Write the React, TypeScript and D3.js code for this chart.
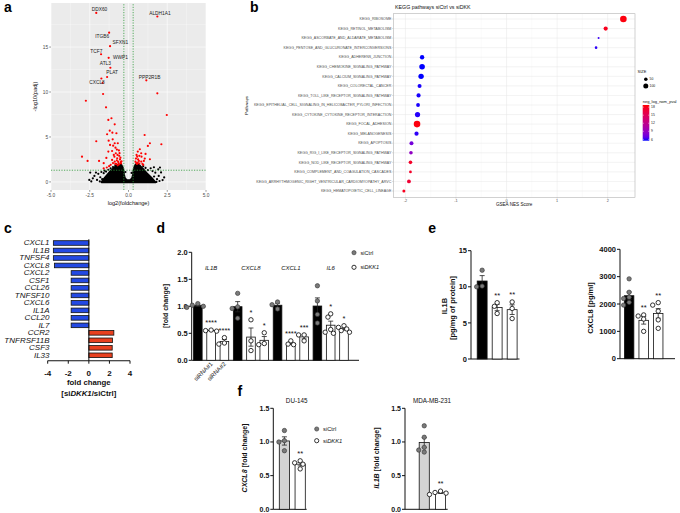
import React from 'react';
import * as d3 from 'd3';

const FONT = "'Liberation Sans', Arial, Helvetica, sans-serif";

// ---------------- Panel a: volcano ----------------
const volcanoLabelGenes = ['DDX60', 'ALDH1A1', 'ITGB6', 'SFXN1', 'TCF7', 'WWP1', 'ATL3', 'PLAT', 'CXCL8', 'PPP2R1B'];
const volcanoLabelX = [-2.08, 1.86, -1.25, -1.19, -1.77, -1.28, -1.17, -1.38, -1.67, 1.15];
const volcanoLabelY = [18.8, 18.4, 16.6, 15.1, 14.2, 13.8, 12.7, 11.67, 11.0, 11.3];
const volcanoRed: number[][] = [
  [-1.75, 11.5], [-1.64, 9.78], [1.86, 9.85], [-2.75, 9.03], [-1.45, 8.3], [2.47, 7.44], [-1.3, 6.89], [-1.1, 7.08],
  [-0.89, 6.41], [-1.21, 5.7], [-1.38, 5.3], [-1.04, 5.48], [-0.78, 5.41], [1.04, 5.22], [-2.08, 4.52], [-1.28, 4.59],
  [-1.02, 4.74], [-0.89, 4.3], [-0.69, 4.3], [-0.99, 4.03], [-1.19, 4.11], [-0.84, 3.81], [1.38, 4.3], [2.12, 4.19],
  [1.25, 4.0], [-1.3, 3.37], [-1.06, 3.44], [-0.82, 3.19], [-0.71, 3.0], [0.73, 3.63], [0.6, 3.37], [0.82, 3.19],
  [1.1, 3.11], [-3.0, 2.81], [-2.64, 2.33], [-1.9, 2.33], [-1.6, 2.08], [-1.43, 2.67], [-1.06, 2.44], [-0.91, 2.81],
  [-0.73, 2.63], [-0.89, 2.26], [-0.67, 2.26], [-0.8, 2.0], [0.56, 2.81], [0.84, 2.81], [1.38, 2.52], [0.67, 2.33],
  [0.82, 2.26], [0.99, 2.33], [0.6, 2.15], [-0.6, 2.9], [-0.55, 2.5], [-0.5, 2.2], [-0.62, 1.95], [-0.48, 2.05],
  [-0.7, 1.85], [-0.58, 3.2], [-0.52, 2.7], [-0.45, 2.3], [-0.65, 2.1], [-0.75, 2.4], [-0.85, 2.0], [-1.0, 2.1],
  [-1.15, 1.9], [-0.95, 3.0], [-0.62, 3.5], [-0.75, 3.6], [0.5, 2.1], [0.55, 2.0], [0.45, 2.25], [0.7, 2.05],
  [0.62, 2.5], [0.9, 2.0], [0.48, 2.6], [0.52, 3.0], [0.7, 2.9], [1.05, 2.6], [0.95, 1.9], [-1.25, 1.75],
  [-1.4, 1.6], [-1.6, 1.5],
];
const volcanoBlack: number[][] = [
  [-2.53, 0.22], [-2.47, 1.04], [-2.2, 0.67], [-2.1, 1.04], [-2.03, 0.22], [-1.82, 0.52], [-1.6, 0.97], [-1.45, 1.15],
  [-1.95, 0.9], [-1.75, 1.1], [-1.3, 1.35], [-1.15, 1.5], [-1.85, 0.05], [-2.3, 0.4], [-1.55, 1.25], [-1.0, 1.65],
  [-0.85, 1.85], [1.43, 1.52], [1.64, 1.63], [1.92, 1.4], [2.03, 1.6], [1.73, 1.03], [1.95, 0.67], [1.84, 0.3],
  [2.2, 0.2], [1.55, 1.2], [2.1, 1.05], [1.25, 1.3], [1.1, 1.55], [2.3, 0.5], [1.8, 0.0], [0.95, 1.75],
  [-0.2, 1.1], [0.2, 1.0], [-1.7, 0.3], [1.65, 0.6], [-2.4, 0.05], [2.0, 0.1],
];
// outline of the dense core of non-significant genes (log2FC, -log10 padj)
const volcanoCore: number[][] = [
  [-1.75, -0.05], [-1.65, 0.25], [-1.5, 0.55], [-1.35, 0.85], [-1.2, 1.15], [-1.05, 1.4], [-0.9, 1.65], [-0.75, 1.85],
  [-0.6, 1.95], [-0.45, 1.9], [-0.36, 1.6], [-0.31, 1.2], [-0.28, 0.8], [-0.23, 0.45], [-0.13, 0.25], [0, 0.2],
  [0.13, 0.25], [0.23, 0.45], [0.28, 0.8], [0.31, 1.2], [0.36, 1.6], [0.45, 1.95], [0.6, 2.0], [0.75, 1.8],
  [0.9, 1.55], [1.05, 1.25], [1.2, 0.95], [1.35, 0.7], [1.5, 0.45], [1.65, 0.15], [1.75, -0.05],
];
const volcanoXTicks = [-5, -2.5, 0, 2.5, 5];
const volcanoYTicks = [0, 5, 10, 15];
const fcCut = 0.3;
const padjCut = 1.3;

// ---------------- Panel b: KEGG ----------------
const pathways = [
  'KEGG_RIBOSOME', 'KEGG_RETINOL_METABOLISM', 'KEGG_ASCORBATE_AND_ALDARATE_METABOLISM',
  'KEGG_PENTOSE_AND_GLUCURONATE_INTERCONVERSIONS', 'KEGG_ADHERENS_JUNCTION', 'KEGG_CHEMOKINE_SIGNALING_PATHWAY',
  'KEGG_CALCIUM_SIGNALING_PATHWAY', 'KEGG_COLORECTAL_CANCER', 'KEGG_TOLL_LIKE_RECEPTOR_SIGNALING_PATHWAY',
  'KEGG_EPITHELIAL_CELL_SIGNALING_IN_HELICOBACTER_PYLORI_INFECTION', 'KEGG_CYTOKINE_CYTOKINE_RECEPTOR_INTERACTION',
  'KEGG_FOCAL_ADHESION', 'KEGG_MELANOGENESIS', 'KEGG_APOPTOSIS', 'KEGG_RIG_I_LIKE_RECEPTOR_SIGNALING_PATHWAY',
  'KEGG_NOD_LIKE_RECEPTOR_SIGNALING_PATHWAY', 'KEGG_COMPLEMENT_AND_COAGULATION_CASCADES',
  'KEGG_ARRHYTHMOGENIC_RIGHT_VENTRICULAR_CARDIOMYOPATHY_ARVC', 'KEGG_HEMATOPOIETIC_CELL_LINEAGE',
];
const nesScore = [2.31, 1.96, 1.82, 1.77, -1.67, -1.67, -1.69, -1.72, -1.74, -1.75, -1.76, -1.77, -1.78, -1.88, -1.89, -1.9, -1.9, -1.93, -2.03];
const setSize = [174, 70, 16, 27, 77, 125, 117, 64, 70, 58, 108, 174, 70, 64, 52, 52, 31, 58, 36];
const negLogPval = [18.5, 18, 6, 5.8, 5.5, 5.5, 5.5, 5.6, 5.6, 5.6, 5.7, 18.5, 5.8, 7.5, 8.8, 17.5, 17.5, 17, 18];
const nesTicks = [-2, -1, 0, 1, 2];
const sizeLegend = [50, 100];
const pvalLegend = [18, 15, 12, 9, 6];

// ---------------- Panel c ----------------
const cGenes = ['CXCL1', 'IL1B', 'TNFSF4', 'CXCL8', 'CXCL2', 'CSF1', 'CCL26', 'TNFSF10', 'CXCL6', 'IL1A', 'CCL20', 'IL7', 'CCR2', 'TNFRSF11B', 'CSF3', 'IL33'];
const cFold = [-3.45, -3.45, -3.45, -3.35, -1.72, -1.72, -1.72, -1.72, -1.72, -1.72, -1.72, -1.72, 2.43, 2.29, 2.27, 2.27];
const cTicks = [-4, -2, 0, 2, 4];

// ---------------- Panel d ----------------
const dGenes = ['IL1B', 'CXCL8', 'CXCL1', 'IL6'];
const dCtrl = [[1.05, 1.02, 1.0, 0.98], [1.24, 0.99, 0.96, 0.78], [1.08, 1.03, 0.95], [1.38, 1.1, 0.85, 0.69]];
const dSi1 = [[0.56, 0.55, 0.54], [0.75, 0.36, 0.18], [0.36, 0.3, 0.29], [0.86, 0.8, 0.57, 0.52, 0.5]];
const dSi2 = [[0.42, 0.32, 0.3], [0.51, 0.31, 0.29], [0.47, 0.47, 0.36], [0.64, 0.61, 0.58, 0.55, 0.52]];
const dStars1 = ['****', '*', '****', '*'];
const dStars2 = ['****', '*', '***', '*'];
const dYTicks = [0, 0.5, 1.0, 1.5, 2.0];
const dXLabels = ['siRNA#1', 'siRNA#2'];

// ---------------- Panel e ----------------
const eIL1B = [[12.3, 10.1, 10.0], [7.8, 7.3, 6.3], [7.9, 7.0, 5.6]];
const eCXCL8 = [[2920, 2430, 2250, 2200, 2060, 1960], [1600, 1560, 1450, 1000], [2050, 1960, 1740, 1420, 1110]];
const eStars = ['', '**', '**'];
const eIL1BTicks = [0, 5, 10, 15];
const eCXCL8Ticks = [0, 1000, 2000, 3000, 4000];

// ---------------- Panel f ----------------
const fDU145 = [[1.17, 1.02, 1.0, 0.87], [0.72, 0.69, 0.67, 0.6]];
const fMDA = [[1.24, 1.07, 0.92, 0.88, 0.85], [0.27, 0.25, 0.24, 0.22]];
const fStars = ['', '**'];
const fTicks = [0, 0.5, 1.0, 1.5];

// ---------- helpers ----------
function swarm(vals: number[], y: (v: number) => number, r: number): number[] {
  const placed: { x: number; y: number }[] = [];
  const d = 2 * r + 0.2;
  return vals.map((v) => {
    const py = y(v);
    const cands = [0];
    for (let k = 1; k < 6; k++) cands.push(-k * d * 0.6, k * d * 0.6);
    let best = 0;
    for (const c of cands) {
      if (placed.every((p) => Math.hypot(p.x - c, p.y - py) >= d * 0.85)) { best = c; break; }
    }
    placed.push({ x: best, y: py });
    return best;
  });
}
const mean = (a: number[]) => d3.mean(a) as number;
const sem = (a: number[]) => (d3.deviation(a) as number) / Math.sqrt(a.length);

type BarSpec = { pts: number[]; fill: string; open: boolean; star: string };

function BarSet({ specs, band, y, r = 2.2 }: { specs: BarSpec[]; band: d3.ScaleBand<string>; y: d3.ScaleLinear<number, number>; r?: number }) {
  const keys = band.domain();
  return (
    <g>
      {specs.map((s, i) => {
        const x0 = band(keys[i]) as number;
        const bw = band.bandwidth();
        const cx = x0 + bw / 2;
        const m = mean(s.pts);
        const e = sem(s.pts);
        const offs = swarm(s.pts, y, r);
        const top = d3.max(s.pts) as number;
        return (
          <g key={i}>
            <rect x={x0} y={y(m)} width={bw} height={y(0) - y(m)} fill={s.fill} stroke="#111" strokeWidth={0.8} />
            <line x1={cx} x2={cx} y1={y(m - e)} y2={y(m + e)} stroke="#222" strokeWidth={0.8} />
            <line x1={cx - 2.5} x2={cx + 2.5} y1={y(m + e)} y2={y(m + e)} stroke="#222" strokeWidth={0.8} />
            <line x1={cx - 2.5} x2={cx + 2.5} y1={y(m - e)} y2={y(m - e)} stroke="#222" strokeWidth={0.8} />
            {s.pts.map((p, j) => (
              <circle key={j} cx={cx + offs[j]} cy={y(p)} r={r} fill={s.open ? '#fff' : '#7a7a7a'} stroke={s.open ? '#111' : '#333'} strokeWidth={s.open ? 0.85 : 0.6} />
            ))}
            {s.star && (
              <text x={cx} y={Math.min(y(top), y(m + e)) - 5} fontSize={7.5} textAnchor="middle" fill="#111">{s.star}</text>
            )}
          </g>
        );
      })}
    </g>
  );
}

function YAxis({ y, x, ticks, fmt, x2, fontSize = 7.5 }: { y: d3.ScaleLinear<number, number>; x: number; ticks: number[]; fmt: (v: number) => string; x2: number; fontSize?: number }) {
  const [r0, r1] = y.range();
  return (
    <g>
      <line x1={x} x2={x} y1={r0} y2={r1} stroke="#111" strokeWidth={1} />
      <line x1={x} x2={x2} y1={r0} y2={r0} stroke="#111" strokeWidth={1} />
      {ticks.map((t) => (
        <g key={t}>
          <line x1={x - 3} x2={x} y1={y(t)} y2={y(t)} stroke="#111" strokeWidth={1} />
          <text x={x - 4} y={y(t)} dy="0.35em" textAnchor="end" fontSize={fontSize} fontWeight="bold" fill="#111">{fmt(t)}</text>
        </g>
      ))}
    </g>
  );
}

// ---------- Panel A ----------
function PanelA() {
  const x = d3.scaleLinear().domain([-5, 5]).range([51, 206]);
  const y = d3.scaleLinear().domain([-0.9, 19.9]).range([190, 3]);
  const [px0, px1] = x.range();
  const [py0, py1] = y.range();
  const xMinor = volcanoXTicks.slice(0, -1).map((t, i) => (t + volcanoXTicks[i + 1]) / 2);
  const yMinor = [2.5, 7.5, 12.5, 17.5];
  const corePath = d3.line<number[]>().x((d) => x(d[0])).y((d) => y(d[1])).curve(d3.curveLinearClosed)(volcanoCore) as string;
  const labelDx = [3.3, 2.6, -7, 10.3, -4.7, 11.7, -5, 5, -5.6, 3.3];
  const labelDy = [-3.7, -3.4, 3.4, -3.4, -3.3, -1, -4.4, -4.3, -1, -3.3];
  return (
    <g>
      <rect x={px0} y={py1} width={px1 - px0} height={py0 - py1} fill="#ebebeb" />
      {xMinor.map((t) => <line key={'xm' + t} x1={x(t)} x2={x(t)} y1={py0} y2={py1} stroke="#fff" strokeWidth={0.3} />)}
      {yMinor.map((t) => <line key={'ym' + t} x1={px0} x2={px1} y1={y(t)} y2={y(t)} stroke="#fff" strokeWidth={0.3} />)}
      {volcanoXTicks.map((t) => <line key={'xM' + t} x1={x(t)} x2={x(t)} y1={py0} y2={py1} stroke="#fff" strokeWidth={0.6} />)}
      {volcanoYTicks.map((t) => <line key={'yM' + t} x1={px0} x2={px1} y1={y(t)} y2={y(t)} stroke="#fff" strokeWidth={0.6} />)}
      <path d={corePath} fill="#000" stroke="#000" strokeWidth={1.6} strokeLinejoin="round" />
      {volcanoBlack.map((d, i) => <circle key={'b' + i} cx={x(d[0])} cy={y(d[1])} r={1.1} fill="#000" />)}
      {volcanoRed.map((d, i) => <circle key={'r' + i} cx={x(d[0])} cy={y(d[1])} r={1.1} fill="#ff0000" />)}
      {volcanoLabelGenes.map((g, i) => <circle key={'l' + g} cx={x(volcanoLabelX[i])} cy={y(volcanoLabelY[i])} r={1.1} fill="#ff0000" />)}
      {[-fcCut, fcCut].map((v) => <line key={'v' + v} x1={x(v)} x2={x(v)} y1={py0} y2={py1} stroke="#2e9a3a" strokeWidth={0.8} strokeDasharray="1.2,1.4" />)}
      <line x1={px0} x2={px1} y1={y(padjCut)} y2={y(padjCut)} stroke="#2e9a3a" strokeWidth={0.8} strokeDasharray="1.2,1.4" />
      {volcanoLabelGenes.map((g, i) => (
        <text key={'t' + g} x={x(volcanoLabelX[i]) + labelDx[i]} y={y(volcanoLabelY[i]) + labelDy[i]} dy="0.35em" textAnchor="middle" fontSize={4.8} fill="#222">{g}</text>
      ))}
      {volcanoXTicks.map((t) => (
        <g key={'xt' + t}>
          <line x1={x(t)} x2={x(t)} y1={py0} y2={py0 + 1.8} stroke="#333" strokeWidth={0.5} />
          <text x={x(t)} y={py0 + 6.5} textAnchor="middle" fontSize={4.8} fill="#4d4d4d">{t.toFixed(1)}</text>
        </g>
      ))}
      {volcanoYTicks.map((t) => (
        <g key={'yt' + t}>
          <line x1={px0 - 1.8} x2={px0} y1={y(t)} y2={y(t)} stroke="#333" strokeWidth={0.5} />
          <text x={px0 - 2.8} y={y(t)} dy="0.35em" textAnchor="end" fontSize={4.8} fill="#4d4d4d">{t}</text>
        </g>
      ))}
      <text x={(px0 + px1) / 2} y={205} textAnchor="middle" fontSize={5.6} fill="#111">log2(foldchange)</text>
      <text transform={`translate(37,${(py0 + py1) / 2}) rotate(-90)`} textAnchor="middle" fontSize={5.6} fill="#111">-log10(padj)</text>
    </g>
  );
}

// ---------- Panel B ----------
function PanelB() {
  const x = d3.scaleLinear().domain([-2, 2]).range([405.4, 607.7]);
  const y = d3.scalePoint<string>().domain(pathways).range([19, 191]);
  const px0 = 393.3, px1 = 635, py0 = 13.7, py1 = 197.3;
  const col = d3.scaleLinear<string>().domain([5.5, 18.8]).range(['blue', 'red']).interpolate(d3.interpolateLab);
  const rad = d3.scaleSqrt().domain([0, 100]).range([0, 2.5]);
  const minor = nesTicks.slice(0, -1).map((t, i) => (t + nesTicks[i + 1]) / 2);
  const cb = d3.scaleLinear().domain([5.5, 18.8]).range([140.7, 105]);
  const stops = d3.range(0, 1.0001, 0.1);
  return (
    <g>
      <defs>
        <linearGradient id="pvalGrad" x1="0" y1="1" x2="0" y2="0">
          {stops.map((s) => <stop key={s} offset={s} stopColor={col(5.5 + s * 13.3)} />)}
        </linearGradient>
      </defs>
      <rect x={px0} y={py0} width={px1 - px0} height={py1 - py0} fill="#fff" />
      {minor.map((t) => <line key={'m' + t} x1={x(t)} x2={x(t)} y1={py0} y2={py1} stroke="#f2f2f2" strokeWidth={0.3} />)}
      {nesTicks.map((t) => <line key={'M' + t} x1={x(t)} x2={x(t)} y1={py0} y2={py1} stroke="#e6e6e6" strokeWidth={0.5} />)}
      {pathways.map((p) => <line key={'h' + p} x1={px0} x2={px1} y1={y(p)} y2={y(p)} stroke="#e6e6e6" strokeWidth={0.5} />)}
      <rect x={px0} y={py0} width={px1 - px0} height={py1 - py0} fill="none" stroke="#b3b3b3" strokeWidth={0.6} />
      {pathways.map((p, i) => (
        <circle key={'c' + p} cx={x(nesScore[i])} cy={y(p)} r={rad(setSize[i])} fill={col(negLogPval[i])} />
      ))}
      {pathways.map((p) => (
        <g key={'yl' + p}>
          <line x1={px0 - 1.5} x2={px0} y1={y(p)} y2={y(p)} stroke="#b3b3b3" strokeWidth={0.4} />
          <text x={px0 - 2} y={y(p)} dy="0.35em" textAnchor="end" fontSize={3.6} fill="#4d4d4d">{p}</text>
        </g>
      ))}
      {nesTicks.map((t) => (
        <g key={'xt' + t}>
          <line x1={x(t)} x2={x(t)} y1={py1} y2={py1 + 1.5} stroke="#b3b3b3" strokeWidth={0.4} />
          <text x={x(t)} y={py1 + 4.6} textAnchor="middle" fontSize={3.8} fill="#4d4d4d">{t}</text>
        </g>
      ))}
      <text x={(px0 + px1) / 2} y={206.3} textAnchor="middle" fontSize={4.6} fill="#111">GSEA NES Score</text>
      <text transform={`translate(247.5,${(py0 + py1) / 2}) rotate(-90)`} textAnchor="middle" fontSize={4.4} fill="#111">Pathways</text>
      <text x={395} y={9.3} fontSize={5.3} fill="#111">KEGG pathways siCtrl vs siDKK</text>
      {/* legend */}
      <text x={637.5} y={73} fontSize={4} fill="#111">SIZE</text>
      {sizeLegend.map((s, i) => (
        <g key={'sl' + s}>
          <circle cx={645.8} cy={79.3 + i * 6.7} r={rad(s)} fill="#000" />
          <text x={649.5} y={79.3 + i * 6.7} dy="0.35em" fontSize={3.4} fill="#111">{s}</text>
        </g>
      ))}
      <text x={642.7} y={102.6} fontSize={4} fill="#111">neg_log_nom_pval</text>
      <rect x={642.7} y={105} width={6.6} height={35.7} fill="url(#pvalGrad)" />
      {pvalLegend.map((v) => (
        <g key={'pl' + v}>
          <line x1={642.7} x2={644} y1={cb(v)} y2={cb(v)} stroke="#fff" strokeWidth={0.4} />
          <line x1={648} x2={649.3} y1={cb(v)} y2={cb(v)} stroke="#fff" strokeWidth={0.4} />
          <text x={651} y={cb(v)} dy="0.35em" fontSize={3.4} fill="#111">{v}</text>
        </g>
      ))}
    </g>
  );
}

// ---------- Panel C ----------
function PanelC() {
  const x = d3.scaleLinear().domain([-4, 4]).range([47.7, 130]);
  const y = d3.scalePoint<string>().domain(cGenes).range([243, 355.3]);
  const bh = 4.6;
  const axisY = 360.7;
  return (
    <g>
      {cGenes.map((g, i) => {
        const v = cFold[i];
        return (
          <rect key={g} x={Math.min(x(0), x(v))} y={(y(g) as number) - bh / 2} width={Math.abs(x(v) - x(0))} height={bh}
            fill={v < 0 ? '#2349e3' : '#e8401e'} stroke="#111" strokeWidth={0.8} />
        );
      })}
      <line x1={x(0)} x2={x(0)} y1={239.3} y2={axisY} stroke="#111" strokeWidth={1} />
      <line x1={x(-4)} x2={x(4)} y1={axisY} y2={axisY} stroke="#111" strokeWidth={1.1} />
      {cTicks.map((t) => (
        <g key={t}>
          <line x1={x(t)} x2={x(t)} y1={axisY} y2={axisY + 3} stroke="#111" strokeWidth={1} />
          <text x={x(t)} y={376.3} textAnchor="middle" fontSize={8} fontWeight="bold" fill="#111">{t < 0 ? '-' + Math.abs(t) : t}</text>
        </g>
      ))}
      {cGenes.map((g) => (
        <text key={'l' + g} transform={`translate(49.5,${y(g)}) scale(1,0.86)`} dy="0.36em" textAnchor="end" fontSize={8} fontStyle="italic" fill="#111">{g}</text>
      ))}
      <text x={x(0)} y={384.5} textAnchor="middle" fontSize={7.8} fontWeight="bold" fill="#111">fold change</text>
      <text x={x(0)} y={395.5} textAnchor="middle" fontSize={7.8} fontWeight="bold" fill="#111">
        [si<tspan fontStyle="italic">DKK1</tspan>/siCtrl]
      </text>
    </g>
  );
}

// ---------- Panel D ----------
function PanelD() {
  const y = d3.scaleLinear().domain([0, 2]).range([360.3, 252.3]);
  const keys = d3.range(12).map(String);
  const band = d3.scaleBand<string>().domain(keys).range([193.5, 193.5 + 12 * 12.9]).paddingInner(0.35).paddingOuter(0);
  const specs: BarSpec[] = [];
  dGenes.forEach((g, i) => {
    specs.push({ pts: dCtrl[i], fill: '#000', open: false, star: '' });
    specs.push({ pts: dSi1[i], fill: '#fff', open: true, star: dStars1[i] });
    specs.push({ pts: dSi2[i], fill: '#fff', open: true, star: dStars2[i] });
  });
  const cx = (k: number) => (band(keys[k]) as number) + band.bandwidth() / 2;
  return (
    <g>
      <YAxis y={y} x={191.7} ticks={dYTicks} fmt={(v) => v.toFixed(1)} x2={359} />
      <BarSet specs={specs} band={band} y={y} />
      {dGenes.map((g, i) => (
        <text key={g} x={cx(i * 3 + 1)} y={269.5} textAnchor="middle" fontSize={6} fontStyle="italic" fill="#111">{g}</text>
      ))}
      {dXLabels.map((l, i) => (
        <text key={l} transform={`translate(${cx(i + 1) + 2},${364.5}) rotate(-45)`} textAnchor="end" fontSize={6} fill="#111">{l}</text>
      ))}
      <text transform={`translate(167.5,${306}) rotate(-90)`} textAnchor="middle" fontSize={7} fontWeight="bold" fill="#111">[fold change]</text>
      <circle cx={354} cy={252.7} r={2.1} fill="#7a7a7a" stroke="#333" strokeWidth={0.6} />
      <circle cx={354} cy={267.3} r={2.1} fill="#fff" stroke="#111" strokeWidth={0.85} />
      <text x={360.5} y={252.7} dy="0.35em" fontSize={5.6} fill="#111">siCtrl</text>
      <text x={360.5} y={267.3} dy="0.35em" fontSize={5.6} fill="#111">si<tspan fontStyle="italic">DKK1</tspan></text>
    </g>
  );
}

// ---------- Panel E ----------
function PanelE() {
  const y1 = d3.scaleLinear().domain([0, 15]).range([359, 250.7]);
  const k3 = ['0', '1', '2'];
  const b1 = d3.scaleBand<string>().domain(k3).range([477.2, 477.2 + 3 * 13.3]).paddingInner(0.34).paddingOuter(0);
  const s1: BarSpec[] = eIL1B.map((p, i) => ({ pts: p, fill: i === 0 ? '#000' : '#fff', open: i > 0, star: eStars[i] }));
  const y2 = d3.scaleLinear().domain([0, 4000]).range([358.7, 249.3]);
  const b2 = d3.scaleBand<string>().domain(k3).range([624.4, 624.4 + 3 * 12.85]).paddingInner(0.35).paddingOuter(0);
  const s2: BarSpec[] = eCXCL8.map((p, i) => ({ pts: p, fill: i === 0 ? '#000' : '#fff', open: i > 0, star: eStars[i] }));
  return (
    <g>
      <YAxis y={y1} x={471} ticks={eIL1BTicks} fmt={(v) => String(v)} x2={519.5} />
      <BarSet specs={s1} band={b1} y={y1} />
      <text transform={`translate(446.5,306) rotate(-90)`} textAnchor="middle" fontSize={7.5} fontWeight="bold" fill="#111">IL1B</text>
      <text transform={`translate(454.5,308) rotate(-90)`} textAnchor="middle" fontSize={7.5} fontWeight="bold" fill="#111">[pg/mg of protein]</text>
      <YAxis y={y2} x={620} ticks={eCXCL8Ticks} fmt={(v) => String(v)} x2={675} />
      <BarSet specs={s2} band={b2} y={y2} />
      <text transform={`translate(592.5,308) rotate(-90)`} textAnchor="middle" fontSize={7.5} fontWeight="bold" fill="#111">CXCL8 [pg/ml]</text>
    </g>
  );
}

// ---------- Panel F ----------
function PanelF() {
  const y = d3.scaleLinear().domain([0, 1.5]).range([509.3, 408.3]);
  const k2 = ['0', '1'];
  const bA = d3.scaleBand<string>().domain(k2).range([279.3, 279.3 + 2 * 13]).paddingInner(0.35).paddingOuter(0);
  const bB = d3.scaleBand<string>().domain(k2).range([419.2, 419.2 + 2 * 13.2]).paddingInner(0.38).paddingOuter(0);
  const sA: BarSpec[] = fDU145.map((p, i) => ({ pts: p, fill: i === 0 ? '#d3d3d3' : '#fff', open: i > 0, star: fStars[i] }));
  const sB: BarSpec[] = fMDA.map((p, i) => ({ pts: p, fill: i === 0 ? '#d3d3d3' : '#fff', open: i > 0, star: fStars[i] }));
  return (
    <g>
      <YAxis y={y} x={273.3} ticks={fTicks} fmt={(v) => v.toFixed(1)} x2={306.7} fontSize={7} />
      <BarSet specs={sA} band={bA} y={y} />
      <text x={296.7} y={403} textAnchor="middle" fontSize={6.3} fill="#111">DU-145</text>
      <text transform={`translate(247,458) rotate(-90)`} textAnchor="middle" fontSize={7} fontWeight="bold" fill="#111">
        <tspan fontStyle="italic">CXCL8</tspan> [fold change]
      </text>
      <circle cx={316.7} cy={429} r={2.1} fill="#7a7a7a" stroke="#333" strokeWidth={0.6} />
      <circle cx={316.7} cy={440.7} r={2.1} fill="#fff" stroke="#111" strokeWidth={0.85} />
      <text x={323} y={429} dy="0.35em" fontSize={5.8} fill="#111">siCtrl</text>
      <text x={323} y={440.7} dy="0.35em" fontSize={5.8} fill="#111">si<tspan fontStyle="italic">DKK1</tspan></text>

      <YAxis y={y} x={405} ticks={fTicks} fmt={(v) => v.toFixed(1)} x2={447.7} fontSize={7} />
      <BarSet specs={sB} band={bB} y={y} />
      <text x={432} y={403} textAnchor="middle" fontSize={6.3} fill="#111">MDA-MB-231</text>
      <text transform={`translate(379,458) rotate(-90)`} textAnchor="middle" fontSize={7} fontWeight="bold" fill="#111">
        <tspan fontStyle="italic">IL1B</tspan> [fold change]
      </text>
    </g>
  );
}

const panelLetters = ['a', 'b', 'c', 'd', 'e', 'f'];
const letterPos = [[4, 11.7], [250, 11.7], [4, 233.3], [156.5, 232.7], [428.3, 232.7], [237.5, 395.7]];

export default function App() {
  return (
    <svg width={680} height={513} viewBox="0 0 680 513" fontFamily={FONT}
      style={{ position: 'absolute', left: 0, top: 0, background: '#fff', display: 'block' }}>
      <rect x={0} y={0} width={680} height={513} fill="#fff" />
      <PanelA />
      <PanelB />
      <PanelC />
      <PanelD />
      <PanelE />
      <PanelF />
      {panelLetters.map((l, i) => (
        <text key={l} x={letterPos[i][0]} y={letterPos[i][1]} fontSize={14} fontWeight="bold" fill="#000">{l}</text>
      ))}
    </svg>
  );
}
